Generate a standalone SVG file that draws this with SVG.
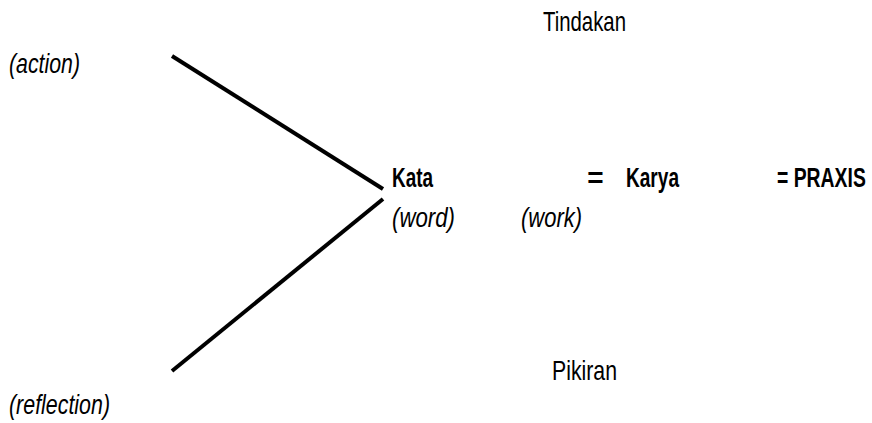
<svg xmlns="http://www.w3.org/2000/svg" width="872" height="423" viewBox="0 0 872 423">
<style>
.t{font-family:"Liberation Sans","DejaVu Sans",sans-serif;font-size:28px;fill:#000}
.b{font-weight:bold}
.i{font-style:italic}
.ln{stroke:#000;stroke-width:4;stroke-linecap:butt;fill:none}
</style>
<rect width="872" height="423" fill="#fff"/>
<g id="connectors">
<line class="ln" x1="172" y1="56" x2="383" y2="189"/>
<line class="ln" x1="383" y1="199" x2="172" y2="371"/>
</g>
<g id="tindakan"><text class="t" x="543" y="31" textLength="83" lengthAdjust="spacingAndGlyphs">Tindakan</text></g>
<g id="action"><text class="t i" x="9" y="73" textLength="71" lengthAdjust="spacingAndGlyphs">(action)</text></g>
<g id="kata"><text class="t b" x="392" y="187" textLength="41" lengthAdjust="spacingAndGlyphs">Kata</text></g>
<g id="eq1"><text class="t b" x="595.5" y="187" text-anchor="middle">=</text></g>
<g id="karya"><text class="t b" x="626" y="187" textLength="53" lengthAdjust="spacingAndGlyphs">Karya</text></g>
<g id="praxis"><text class="t b" transform="translate(777,187) scale(0.6,1)" x="0" y="0" textLength="148" lengthAdjust="spacingAndGlyphs">= PRAXIS</text></g>
<g id="word"><text class="t i" x="392" y="227" textLength="63" lengthAdjust="spacingAndGlyphs">(word)</text></g>
<g id="work"><text class="t i" x="521" y="227" textLength="61" lengthAdjust="spacingAndGlyphs">(work)</text></g>
<g id="pikiran"><text class="t" x="552" y="380" font-size="30" textLength="65" lengthAdjust="spacingAndGlyphs">Pikiran</text></g>
<g id="reflection"><text class="t i" x="9" y="414" textLength="101" lengthAdjust="spacingAndGlyphs">(reflection)</text></g>
</svg>
